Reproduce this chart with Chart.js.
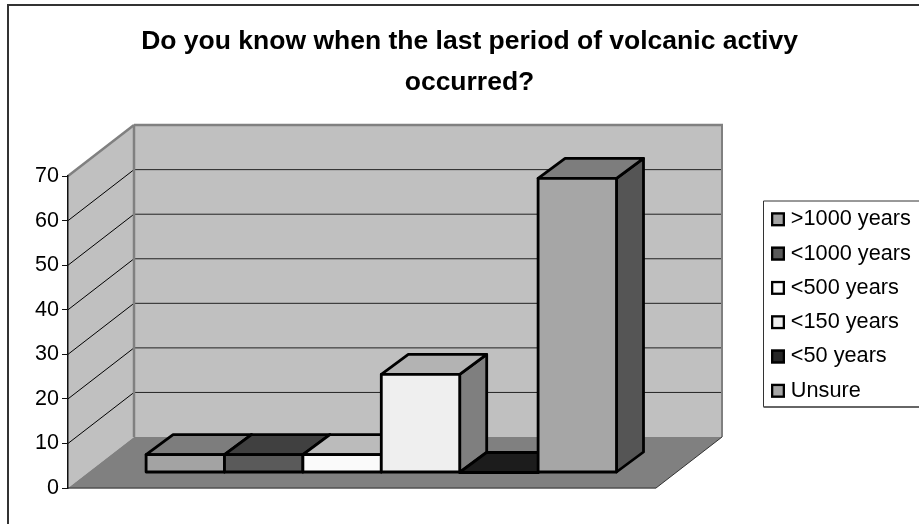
<!DOCTYPE html>
<html><head><meta charset="utf-8">
<style>html,body{margin:0;padding:0;background:#fff}#w{width:919px;height:524px;position:relative}</style>
<script src="https://cdn.jsdelivr.net/npm/chart.js@4/dist/chart.umd.js"></script>
</head><body><div id="w"><canvas id="c" width="919" height="524"></canvas></div>
<script>
const titleLines = ['Do you know when the last period of volcanic activy', 'occurred?'];
const category = ['Responses'];
const seriesNames = ['>1000 years', '<1000 years', '<500 years', '<150 years', '<50 years', 'Unsure'];
const seriesValues = [4, 4, 4, 22, 0, 66];
const frontColors = ['#A3A3A3', '#5A5A5A', '#FAFAFA', '#EFEFEF', '#262626', '#A6A6A6'];
const topColors = ['#7D7D7D', '#404040', '#BBBBBB', '#B3B3B3', '#1C1C1C', '#7D7D7D'];
const sideColors = ['#6E6E6E', '#333333', '#999999', '#7F7F7F', '#111111', '#555555'];

const WALL = {dx: 66, dy: -51};
const BAR_SHIFT = {dx: 19.3, dy: -15.5};
const BAR_DEPTH = {dx: 27, dy: -20};
const LEG = {left: 763.5, top: 201, bottom: 407, rowStep: 34.3, padding: 12.6, font: 21.7, swatchX: 771, swatch: 14, firstCenter: 219.3};

function poly(ctx, pts, fill, stroke, lw) {
  ctx.beginPath();
  pts.forEach((p, i) => i ? ctx.lineTo(p[0], p[1]) : ctx.moveTo(p[0], p[1]));
  ctx.closePath();
  if (fill) { ctx.fillStyle = fill; ctx.fill(); }
  if (stroke) { ctx.strokeStyle = stroke; ctx.lineWidth = lw; ctx.lineJoin = 'round'; ctx.stroke(); }
}
function line(ctx, x1, y1, x2, y2, color, lw) {
  ctx.beginPath(); ctx.moveTo(x1, y1); ctx.lineTo(x2, y2);
  ctx.strokeStyle = color; ctx.lineWidth = lw; ctx.stroke();
}

const scene3d = {
  id: 'scene3d',
  beforeLayout(chart) {
    const lg = chart.legend;
    if (!lg._fitWrapped) {
      const fit = lg.fit;
      lg.fit = function () { fit.call(this); this.width = 263; };
      lg._fitWrapped = true;
    }
  },
  afterLayout(chart) {
    const lg = chart.legend;
    lg.left = LEG.swatchX - LEG.padding;
    lg.right = 919;
    lg.top = LEG.firstCenter - LEG.font / 2 - LEG.padding;
    lg.bottom = LEG.bottom + 40;
  },
  beforeDraw(chart) {
    const ctx = chart.ctx, a = chart.chartArea, y = chart.scales.y;
    const d = WALL;
    ctx.save();
    ctx.fillStyle = '#fff'; ctx.fillRect(0, 0, 919, 524);
    // outer frame
    line(ctx, 8, 5, 8, 524, '#333', 2);
    line(ctx, 7, 5, 919, 5, '#333', 2);
    // side wall, back wall
    poly(ctx, [[a.left, a.top], [a.left + d.dx, a.top + d.dy], [a.left + d.dx, a.bottom + d.dy], [a.left, a.bottom]], '#C0C0C0');
    poly(ctx, [[a.left + d.dx, a.top + d.dy], [a.right + d.dx, a.top + d.dy], [a.right + d.dx, a.bottom + d.dy], [a.left + d.dx, a.bottom + d.dy]], '#C0C0C0');
    // floor
    poly(ctx, [[a.left, a.bottom], [a.right, a.bottom], [a.right + d.dx, a.bottom + d.dy], [a.left + d.dx, a.bottom + d.dy]], '#808080');
    // gridlines through the y scale
    y.ticks.forEach(t => {
      if (t.value === 0 || t.value === 70) return;
      const py = y.getPixelForValue(t.value);
      line(ctx, a.left, py, a.left + d.dx, py + d.dy, '#000', 1);
      line(ctx, a.left + d.dx, py + d.dy, a.right + d.dx, py + d.dy, '#222', 1);
    });
    // wall edges
    line(ctx, a.left, a.top, a.left + d.dx, a.top + d.dy, '#808080', 2.5);
    line(ctx, a.left + d.dx, a.top + d.dy, a.right + d.dx + 1, a.top + d.dy, '#808080', 2.5);
    line(ctx, a.left + d.dx, a.top + d.dy, a.left + d.dx, a.bottom + d.dy, '#808080', 2.5);
    line(ctx, a.right + d.dx, a.top + d.dy, a.right + d.dx, a.bottom + d.dy, '#808080', 2);
    line(ctx, a.left, a.bottom, a.right, a.bottom, '#505050', 1.5);
    line(ctx, a.right, a.bottom, a.right + d.dx, a.bottom + d.dy, '#333', 1);
    // legend frame
    ctx.fillStyle = '#fff';
    ctx.fillRect(LEG.left, LEG.top, 919 - LEG.left, LEG.bottom - LEG.top);
    line(ctx, LEG.left, LEG.top, 919, LEG.top, '#333', 1);
    line(ctx, LEG.left, LEG.top, LEG.left, LEG.bottom, '#333', 1);
    line(ctx, LEG.left, LEG.bottom, 919, LEG.bottom, '#666', 2);
    ctx.restore();
  },
  beforeDatasetsDraw(chart) {
    const ctx = chart.ctx;
    ctx.save();
    chart.data.datasets.forEach((ds, i) => {
      chart.getDatasetMeta(i).data.forEach(el => {
        const l = el.x - el.width / 2 + BAR_SHIFT.dx, r = el.x + el.width / 2 + BAR_SHIFT.dx;
        const t = el.y + BAR_SHIFT.dy, b = el.base + BAR_SHIFT.dy;
        const dx = BAR_DEPTH.dx, dy = BAR_DEPTH.dy;
        poly(ctx, [[r, t], [r + dx, t + dy], [r + dx, b + dy], [r, b]], sideColors[i], '#000', 2.8);
        poly(ctx, [[l, t], [l + dx, t + dy], [r + dx, t + dy], [r, t]], topColors[i], '#000', 2.8);
        poly(ctx, [[l, t], [r, t], [r, b], [l, b]], frontColors[i], '#000', 2.8);
      });
    });
    ctx.restore();
    return false;
  },
  afterDraw(chart) {
    const ctx = chart.ctx, s = LEG.swatch;
    ctx.save();
    chart.legend.legendItems.forEach((it, i) => {
      const cy = LEG.firstCenter + i * LEG.rowStep;
      ctx.fillStyle = frontColors[i];
      ctx.fillRect(LEG.swatchX, cy - s / 2, s, s);
      ctx.strokeStyle = '#000'; ctx.lineWidth = 2.3;
      ctx.strokeRect(LEG.swatchX + 1.15, cy - s / 2 + 1.15, s - 2.3, s - 2.3);
    });
    ctx.restore();
  }
};

Chart.defaults.font.family = '"Liberation Sans", Arial, sans-serif';
Chart.defaults.color = '#000';

new Chart(document.getElementById('c'), {
  type: 'bar',
  data: {
    labels: category,
    datasets: seriesNames.map((name, i) => ({
      label: name,
      data: [seriesValues[i]],
      backgroundColor: frontColors[i],
      borderWidth: 0
    }))
  },
  plugins: [scene3d],
  options: {
    responsive: false,
    animation: false,
    categoryPercentage: 0.8,
    barPercentage: 1,
    layout: {padding: {left: 20, right: 0, top: 0, bottom: 36}},
    scales: {
      x: {display: false},
      y: {
        min: 0, max: 70,
        ticks: {stepSize: 10, padding: 3, font: {size: 21.5}, color: '#000'},
        grid: {drawOnChartArea: false, tickLength: 6, tickColor: '#111', tickWidth: 1},
        border: {color: '#111', width: 1.5},
        afterFit(s) { s.width = 48; }
      }
    },
    plugins: {
      title: {
        display: true,
        text: titleLines,
        color: '#000',
        font: {size: 26.5, weight: 'bold', lineHeight: 1.53},
        padding: {top: 21.5, bottom: 73.5}
      },
      legend: {
        display: true,
        position: 'right',
        align: 'start',
        labels: {boxWidth: 9, boxHeight: 9, padding: LEG.padding, font: {size: LEG.font}, color: '#000'}
      },
      tooltip: {enabled: false}
    }
  }
});
</script></body></html>
